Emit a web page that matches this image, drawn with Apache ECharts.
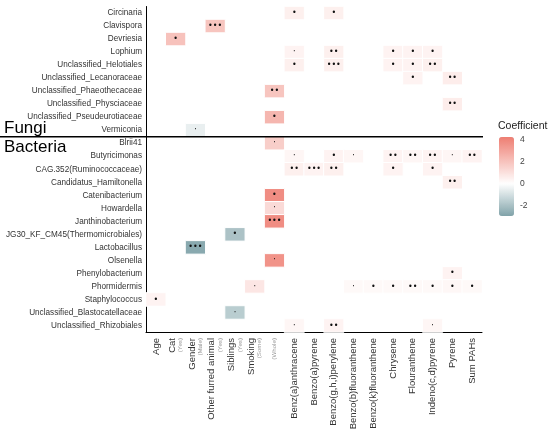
<!DOCTYPE html>
<html><head><meta charset="utf-8">
<script src="https://cdn.jsdelivr.net/npm/echarts@6/dist/echarts.min.js"></script>
<style>html,body{margin:0;padding:0;background:#fff}#c{width:550px;height:436px}</style>
</head><body><div id="c"></div><script>
const xCategories = ['Age','Cat','Gender','Other furred animal','Siblings','Smoking (Some)','Smoking (Whole)',
  'Benz(a)anthracene','Benzo(a)pyrene','Benzo(g,h,i)perylene','Benzo(b)fluoranthene','Benzo(k)fluoranthene',
  'Chrysene','Flouranthene','Indeno(c,d)pyrene','Pyrene','Sum PAHs'];
const xMainLabels = ['Age','Cat','Gender','Other furred animal','Siblings','Smoking','',
  'Benz(a)anthracene','Benzo(a)pyrene','Benzo(g,h,i)perylene','Benzo(b)fluoranthene','Benzo(k)fluoranthene',
  'Chrysene','Flouranthene','Indeno(c,d)pyrene','Pyrene','Sum PAHs'];
const xSubLabels = ['','(Yes)','(Male)','(Yes)','(Yes)','(Some)','(Whole)','','','','','','','','','',''];
const yCategories = ['Circinaria','Clavispora','Devriesia','Lophium','Unclassified_Helotiales',
  'Unclassified_Lecanoraceae','Unclassified_Phaeothecaceae','Unclassified_Physciaceae',
  'Unclassified_Pseudeurotiaceae','Vermiconia',
  'Blrii41','Butyricimonas','CAG.352(Ruminococcaceae)','Candidatus_Hamiltonella','Catenibacterium',
  'Howardella','Janthinobacterium','JG30_KF_CM45(Thermomicrobiales)','Lactobacillus','Olsenella',
  'Phenylobacterium','Phormidermis','Staphylococcus','Unclassified_Blastocatellaceae','Unclassified_Rhizobiales'];
const groupNames = ['Fungi','Bacteria'];
const groupBoundary = ['Vermiconia','Blrii41'];
// [x category, y category, coefficient, significance]
const cells = [
  ['Benz(a)anthracene','Circinaria',0.5,'*'],['Benzo(g,h,i)perylene','Circinaria',0.5,'*'],
  ['Other furred animal','Clavispora',1.9,'***'],
  ['Cat','Devriesia',2.0,'*'],
  ['Benz(a)anthracene','Lophium',0.4,'.'],['Benzo(g,h,i)perylene','Lophium',0.5,'**'],['Chrysene','Lophium',0.4,'*'],['Flouranthene','Lophium',0.4,'*'],['Indeno(c,d)pyrene','Lophium',0.4,'*'],
  ['Benz(a)anthracene','Unclassified_Helotiales',0.5,'*'],['Benzo(g,h,i)perylene','Unclassified_Helotiales',0.5,'***'],['Chrysene','Unclassified_Helotiales',0.4,'*'],['Flouranthene','Unclassified_Helotiales',0.4,'*'],['Indeno(c,d)pyrene','Unclassified_Helotiales',0.5,'**'],
  ['Flouranthene','Unclassified_Lecanoraceae',0.4,'*'],['Pyrene','Unclassified_Lecanoraceae',0.6,'**'],
  ['Smoking (Whole)','Unclassified_Phaeothecaceae',1.9,'**'],
  ['Pyrene','Unclassified_Physciaceae',0.6,'**'],
  ['Smoking (Whole)','Unclassified_Pseudeurotiaceae',2.4,'*'],
  ['Gender','Vermiconia',-0.5,'.'],
  ['Smoking (Whole)','Blrii41',1.6,'.'],
  ['Benz(a)anthracene','Butyricimonas',0.3,'.'],['Benzo(g,h,i)perylene','Butyricimonas',0.4,'*'],['Benzo(b)fluoranthene','Butyricimonas',0.3,'.'],['Chrysene','Butyricimonas',0.4,'**'],['Flouranthene','Butyricimonas',0.3,'**'],['Indeno(c,d)pyrene','Butyricimonas',0.4,'**'],['Pyrene','Butyricimonas',0.3,'.'],['Sum PAHs','Butyricimonas',0.4,'**'],
  ['Benz(a)anthracene','CAG.352(Ruminococcaceae)',0.5,'**'],['Benzo(a)pyrene','CAG.352(Ruminococcaceae)',0.4,'***'],['Benzo(g,h,i)perylene','CAG.352(Ruminococcaceae)',0.5,'**'],['Chrysene','CAG.352(Ruminococcaceae)',0.4,'*'],['Indeno(c,d)pyrene','CAG.352(Ruminococcaceae)',0.4,'*'],
  ['Pyrene','Candidatus_Hamiltonella',0.5,'**'],
  ['Smoking (Whole)','Catenibacterium',3.7,'*'],
  ['Smoking (Whole)','Howardella',1.2,'.'],
  ['Smoking (Whole)','Janthinobacterium',3.7,'***'],
  ['Siblings','JG30_KF_CM45(Thermomicrobiales)',-1.9,'*'],
  ['Gender','Lactobacillus',-2.7,'***'],
  ['Smoking (Whole)','Olsenella',3.5,'.'],
  ['Pyrene','Phenylobacterium',0.4,'*'],
  ['Smoking (Some)','Phormidermis',0.8,'.'],['Benzo(b)fluoranthene','Phormidermis',0.2,'.'],['Benzo(k)fluoranthene','Phormidermis',0.2,'*'],['Chrysene','Phormidermis',0.2,'*'],['Flouranthene','Phormidermis',0.2,'**'],['Indeno(c,d)pyrene','Phormidermis',0.2,'*'],['Pyrene','Phormidermis',0.25,'*'],['Sum PAHs','Phormidermis',0.2,'*'],
  ['Age','Staphylococcus',0.4,'*'],
  ['Siblings','Unclassified_Blastocatellaceae',-1.6,'.'],
  ['Benz(a)anthracene','Unclassified_Rhizobiales',0.3,'.'],['Benzo(g,h,i)perylene','Unclassified_Rhizobiales',0.4,'**'],['Indeno(c,d)pyrene','Unclassified_Rhizobiales',0.3,'.']
];
const legendTicks = [-2, 0, 2, 4];
const coefMin = -2.9, coefMax = 4.2;

// colour scale: low -> white at 0 -> high
function hex(c){return [parseInt(c.slice(1,3),16),parseInt(c.slice(3,5),16),parseInt(c.slice(5,7),16)];}
function mix(a,b,t){const A=hex(a),B=hex(b);return 'rgb('+A.map((v,i)=>Math.round(v+(B[i]-v)*t)).join(',')+')';}
const lowC='#80A3A9', midC='#FFFFFF', highC='#EE7E72';
const stops=[]; const N=72;
for(let i=0;i<=N;i++){const v=coefMin+(coefMax-coefMin)*i/N;
  stops.push(v<0?mix(midC,lowC,v/coefMin):mix(midC,highC,v/coefMax));}

const sigGlyph = s => s==='.' ? '·' : s.replace(/\*/g,'•');

const chart = echarts.init(document.getElementById('c'));
const axisTxt = '#333';
chart.setOption({
  animation:false,
  title:{text:'Coefficient',left:498,top:121,textStyle:{fontSize:10.5,fontWeight:'normal',color:'#222',fontFamily:'Liberation Sans'},padding:0},
  grid:[{left:146,right:68,top:6.5,bottom:104,containLabel:false},
        {left:499,top:137,width:15,height:79}],
  xAxis:[{type:'category',data:xCategories,gridIndex:0,
    axisLine:{lineStyle:{color:'#000',width:1}},axisTick:{length:3,lineStyle:{color:'#000'}},
    splitLine:{show:false},
    axisLabel:{rotate:90,interval:0,margin:6,fontFamily:'Liberation Sans',
      formatter:(v,i)=>{const m=xMainLabels[i],s=xSubLabels[i];
        if(m&&s) return '{m|'+m+'}\n{s|'+s+'}'; if(m) return '{m|'+m+'}'; return '{s|'+s+'}';},
      rich:{m:{fontSize:9.5,color:axisTxt,fontFamily:'Liberation Sans',lineHeight:10},
            s:{fontSize:6.2,color:'#999',fontFamily:'Liberation Sans',lineHeight:7}}}},
    {type:'value',gridIndex:1,show:false,min:0,max:1}],
  yAxis:[{type:'category',data:yCategories,inverse:true,gridIndex:0,
    axisLine:{lineStyle:{color:'#000',width:1}},axisTick:{length:3,lineStyle:{color:'#000'}},
    splitLine:{show:false},
    axisLabel:{interval:0,margin:4,fontSize:8.2,color:axisTxt,fontFamily:'Liberation Sans'}},
    {type:'value',gridIndex:1,min:coefMin,max:coefMax,position:'right',
     axisLine:{show:false},axisTick:{show:false},splitLine:{show:false},
     axisLabel:{customValues:legendTicks,margin:6,fontSize:8.5,color:'#444',fontFamily:'Liberation Sans'}}],
  visualMap:{type:'continuous',min:coefMin,max:coefMax,dimension:2,seriesIndex:0,calculable:false,
    orient:'vertical',left:499,top:137,itemWidth:15,itemHeight:79,padding:0,text:null,hoverLink:false,
    inRange:{color:stops}},
  series:[{type:'heatmap',xAxisIndex:0,yAxisIndex:0,
    data:cells.map(c=>[c[0],c[1],c[2],c[3]]),
    encode:{x:0,y:1,value:2},
    itemStyle:{borderColor:'#fff',borderWidth:1},
    label:{show:true,formatter:p=>sigGlyph(p.data[3]),fontSize:8,color:'#111',fontFamily:'DejaVu Sans'},
    emphasis:{disabled:true}}]
});

// group separator and group titles, positioned from the axes
const yV = chart.convertToPixel({yAxisIndex:0}, groupBoundary[0]);
const yB = chart.convertToPixel({yAxisIndex:0}, groupBoundary[1]);
const sepY = (yV+yB)/2;
const xa = chart.convertToPixel({xAxisIndex:0}, xCategories[0]);
const xb = chart.convertToPixel({xAxisIndex:0}, xCategories[1]);
const xLast = chart.convertToPixel({xAxisIndex:0}, xCategories[xCategories.length-1]) + (xb-xa)/2;
chart.setOption({graphic:[
  {type:'line',shape:{x1:0,y1:sepY,x2:xLast+1,y2:sepY},style:{stroke:'#000',lineWidth:1.5},z:100},
  {type:'text',left:4,top:sepY-17,style:{text:groupNames[0],fontSize:17,fill:'#000',fontFamily:'Liberation Sans'},z:100},
  {type:'text',left:4,top:sepY+2,style:{text:groupNames[1],fontSize:17,fill:'#000',fontFamily:'Liberation Sans'},z:100}
]});
</script></body></html>
